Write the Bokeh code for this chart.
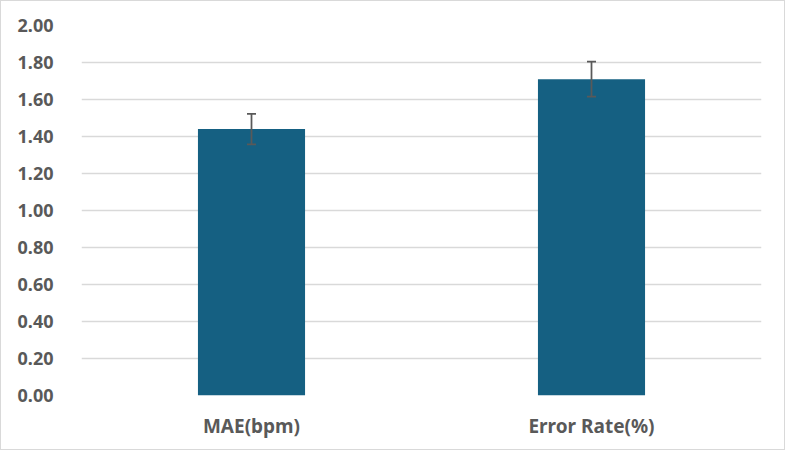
from bokeh.plotting import figure
from bokeh.models import ColumnDataSource, Whisker, TeeHead, FixedTicker, NumeralTickFormatter, Range1d
from bokeh.embed import file_html
from bokeh.resources import INLINE

categories = ["MAE(bpm)", "Error Rate(%)"]
values = [1.44, 1.71]
errors = [0.082, 0.095]
y_ticks = [0.0, 0.2, 0.4, 0.6, 0.8, 1.0, 1.2, 1.4, 1.6, 1.8, 2.0]

lower = [v - e for v, e in zip(values, errors)]
upper = [v + e for v, e in zip(values, errors)]
src = ColumnDataSource(data=dict(cat=categories, val=values, lower=lower, upper=upper))

FONT = "Noto Sans"
TXT = "#595959"

p = figure(x_range=categories, width=785, height=450, output_backend="svg",
           toolbar_location=None, min_border_left=80, min_border_right=25,
           min_border_top=24, min_border_bottom=56)
p.y_range = Range1d(0, 2.0)
p.x_range.range_padding = 0

p.vbar(x="cat", top="val", width=0.315, source=src, fill_color="#156082", line_color=None)

w = Whisker(source=src, base="cat", lower="lower", upper="upper",
            line_color="#595959", line_width=1.75, level="overlay",
            upper_head=TeeHead(size=9, line_color="#595959", line_width=1.75),
            lower_head=TeeHead(size=9, line_color="#595959", line_width=1.75))
p.add_layout(w)

p.outline_line_color = None
p.xgrid.grid_line_color = None
p.ygrid.grid_line_color = "#d9d9d9"
p.ygrid.grid_line_width = 1.5

p.yaxis.ticker = FixedTicker(ticks=y_ticks)
p.yaxis.formatter = NumeralTickFormatter(format="0.00")
for ax in (p.xaxis, p.yaxis):
    ax.axis_line_color = None
    ax.major_tick_line_color = None
    ax.minor_tick_line_color = None
    ax.major_tick_out = 0
    ax.major_tick_in = 0
    ax.minor_tick_out = 0
    ax.major_label_text_font = FONT
    ax.major_label_text_font_style = "bold"
    ax.major_label_text_color = TXT
p.yaxis.major_label_text_font_size = "18px"
p.xaxis.major_label_text_font_size = "19px"
p.yaxis.major_label_standoff = 28
p.xaxis.major_label_standoff = 17

p.styles = {"border": "1.5px solid #d9d9d9", "box-sizing": "border-box"}

open("out.html", "w").write(file_html(p, INLINE))
